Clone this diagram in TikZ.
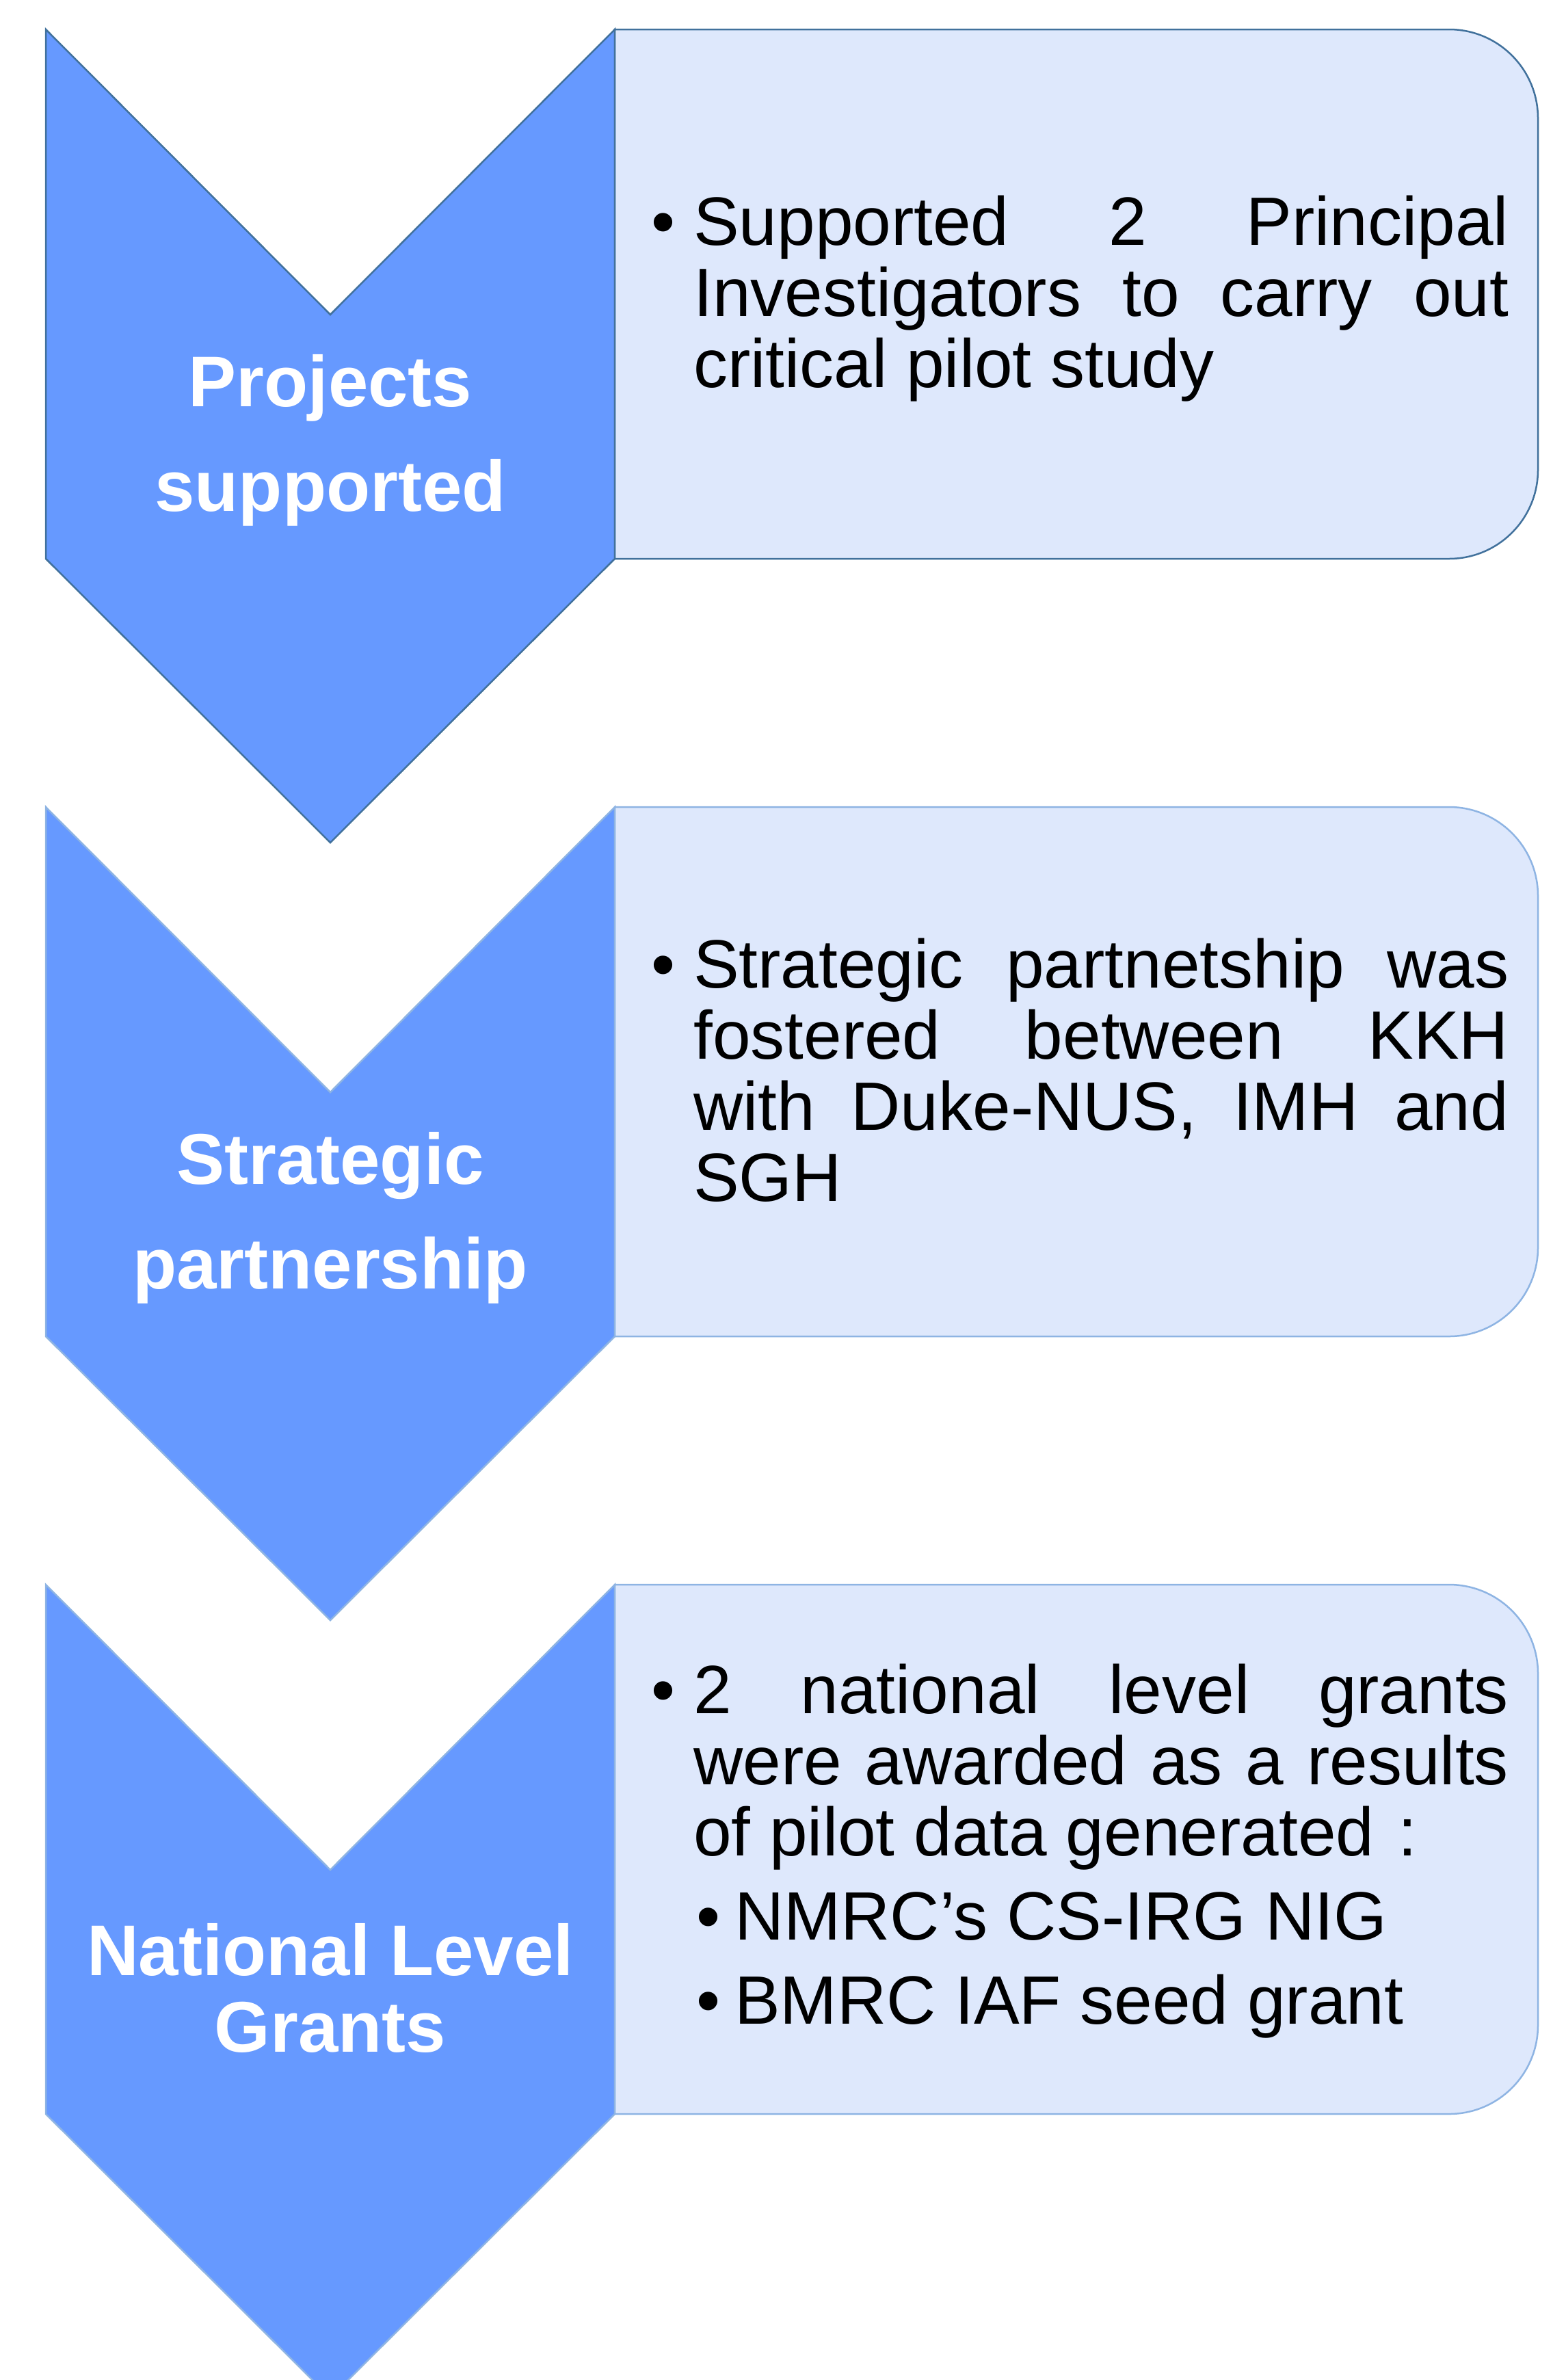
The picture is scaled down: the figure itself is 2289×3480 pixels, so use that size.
\documentclass[tikz,border=0pt]{standalone}
\usepackage{fontspec}
\setmainfont{Liberation Sans}
\definecolor{chevfill}{HTML}{6699FF}
\definecolor{boxfill}{HTML}{DEE8FC}
\definecolor{strokeD}{HTML}{41719C}
\definecolor{strokeL}{HTML}{8EB4E3}
\newcommand\ctrln[1]{\hbox to 0pt{\hss#1\hss}}
\newcommand\firstln[1]{\hbox{\hbox to 62pt{\textbullet\hfil}\hbox to 1192pt{#1}}}
\newcommand\justln[1]{\hbox{\hskip 62pt\hbox to 1192pt{#1}}}
\newcommand\subln[1]{\hbox{\hskip 66pt\hbox to 56pt{\textbullet\hfil}#1}}
\tikzset{
  chev/.style={fill=chevfill, line width=2.5pt, line join=miter},
  infobox/.style={fill=boxfill, line width=2.5pt},
  body/.style={inner sep=0pt, anchor=base west, text=black, font=\fontsize{100pt}{104pt}\selectfont},
  lbl/.style={inner sep=0pt, anchor=base, text=white, font=\fontsize{105pt}{153pt}\selectfont\bfseries},
  lbltight/.style={inner sep=0pt, anchor=base, text=white, font=\fontsize{105pt}{112pt}\selectfont\bfseries}
}
\begin{document}
\begin{tikzpicture}[x=1pt,y=-1pt]
\useasboundingbox (0,0) rectangle (2289,3480);
\clip (0,0) rectangle (2289,3480);
% row 1
\draw[chev, draw=strokeD] (67,43) -- (483,460) -- (899,43) -- (899,817) -- (483,1232) -- (67,817) -- cycle;
\draw[infobox, draw=strokeD] (1500,43) [rounded corners=130pt] -- (2249,43) -- (2249,817) -- (1500,817) [sharp corners] -- (899,817) -- (899,43) -- cycle;
% row 2
\draw[chev, draw=strokeL] (67,1180) -- (483,1597) -- (899,1180) -- (899,1954) -- (483,2369) -- (67,1954) -- cycle;
\draw[infobox, draw=strokeL] (1500,1180) [rounded corners=130pt] -- (2249,1180) -- (2249,1954) -- (1500,1954) [sharp corners] -- (899,1954) -- (899,1180) -- cycle;
% row 3
\draw[chev, draw=strokeL] (67,2317) -- (483,2734) -- (899,2317) -- (899,3091) -- (483,3506) -- (67,3091) -- cycle;
\draw[infobox, draw=strokeL] (1500,2317) [rounded corners=130pt] -- (2249,2317) -- (2249,3091) -- (1500,3091) [sharp corners] -- (899,3091) -- (899,2317) -- cycle;
% labels
\node[lbl] (l1) at (483,594) {\vtop{\ctrln{Projects}\ctrln{supported}}};
\node[lbl] (l2) at (483,1731) {\vtop{\ctrln{Strategic}\ctrln{partnership}}};
\node[lbltight] (l3) at (483,2888) {\vtop{\ctrln{National Level}\ctrln{Grants}}};
% texts
\node[body] (t1) at (952,358) {\vtop{\firstln{Supported 2 Principal}\justln{Investigators to carry out}\justln{critical pilot study\hfil}}};
\node[body] (t2) at (952,1444) {\vtop{\firstln{Strategic partnetship was}\justln{fostered between KKH}\justln{with Duke-NUS, IMH and}\justln{SGH\hfil}}};
\node[body] (t3) at (952,2505) {\vtop{\firstln{2 national level grants}\justln{were awarded as a results}\justln{of pilot data generated\hskip 0.35em:\hfil}\vskip 19pt\subln{NMRC’s CS-IRG NIG}\vskip 19pt\subln{BMRC IAF seed grant}}};
\end{tikzpicture}
\end{document}
